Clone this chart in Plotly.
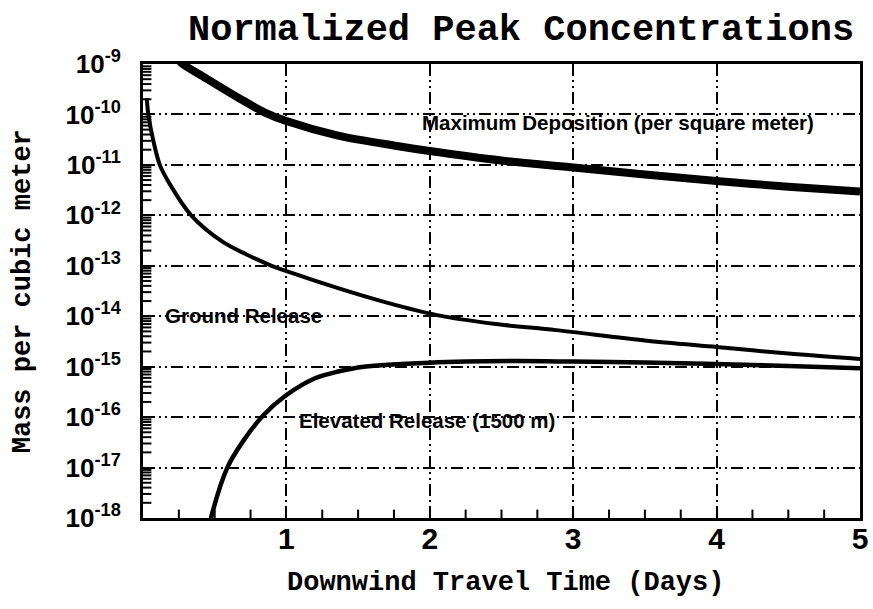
import plotly.graph_objects as go

# Downwind travel time (days) and normalized peak values for each curve
dep_days = [0.25, 0.276, 0.44, 0.67, 0.85, 1.0, 1.36, 1.77, 2.0, 2.5, 3.0, 3.5, 4.0, 4.5, 5.0]
dep_vals = [1.2e-9, 1.0e-9, 5.2e-10, 2.1e-10, 1.09e-10, 7.4e-11, 3.8e-11, 2.37e-11, 1.88e-11,
            1.22e-11, 8.9e-12, 6.45e-12, 4.8e-12, 3.7e-12, 2.95e-12]

ground_days = [0.026, 0.037, 0.071, 0.117, 0.186, 0.336, 0.554, 0.715, 0.897, 0.991, 1.36,
               1.7, 2.05, 2.46, 2.88, 3.5, 4.0, 4.5, 5.0]
ground_vals = [2.1e-10, 1.0e-10, 3.1e-11, 1.0e-11, 4.2e-12, 1.0e-12, 3.0e-13, 1.71e-13, 1.0e-13,
               8.0e-14, 3.6e-14, 1.86e-14, 1.05e-14, 7.0e-15, 5.3e-15, 3.3e-15, 2.45e-15,
               1.82e-15, 1.42e-15]

elev_days = [0.45, 0.474, 0.588, 0.703, 0.841, 1.0, 1.2, 1.36, 1.54, 2.0, 2.58, 3.0, 3.5, 4.0,
             4.5, 5.0]
elev_vals = [4.6e-19, 1.0e-18, 1.0e-17, 3.5e-17, 1.1e-16, 2.74e-16, 5.9e-16, 8.0e-16, 1.0e-15,
             1.2e-15, 1.29e-15, 1.26e-15, 1.21e-15, 1.13e-15, 1.03e-15, 9.3e-16]

x_ticks = [1, 2, 3, 4, 5]
y_exponents = [-9, -10, -11, -12, -13, -14, -15, -16, -17, -18]
minor_digits = [2, 3, 4, 5, 6, 7, 8, 9]

curve_labels = ["Maximum Deposition (per square meter)", "Ground Release", "Elevated Release (1500 m)"]
label_days = [3.31, 0.70, 1.98]
label_exps = [-10.15, -13.98, -16.06]

X_RANGE = [0, 5]
Y_RANGE = [-18, -9]

MONO = "Liberation Mono, Courier New, monospace"
SANS = "Liberation Sans, Arial, sans-serif"
NARROW = "Liberation Sans Narrow, Arial Narrow, Liberation Sans, sans-serif"
GRID_DASH = "12px,4px,2px,4px,2px,4px"

# quarter-day and 2..9 log sub-divisions for the small inward ticks
x_minor = [q / 4 for q in range(1, 20) if q % 4]
y_minor = [d * 10.0 ** e for e in y_exponents[1:] for d in minor_digits]

fig = go.Figure()
for xs, ys, w in [(dep_days, dep_vals, 8), (ground_days, ground_vals, 4), (elev_days, elev_vals, 4.5)]:
    fig.add_trace(go.Scatter(x=xs, y=ys, mode="lines", hoverinfo="skip",
                             line=dict(color="black", width=w, shape="spline", smoothing=0.9)))

# minor tick marks sitting on the frame; the outer half is clipped by the plot area
fig.add_trace(go.Scatter(
    x=x_minor, y=[10.0 ** Y_RANGE[0]] * len(x_minor), mode="markers", hoverinfo="skip",
    cliponaxis=True,
    marker=dict(symbol="line-ns", size=12, line=dict(color="black", width=2)),
))
fig.add_trace(go.Scatter(
    x=[X_RANGE[0]] * len(y_minor), y=y_minor, mode="markers", hoverinfo="skip",
    cliponaxis=True,
    marker=dict(symbol="line-ew", size=12, line=dict(color="black", width=2)),
))

fig.update_layout(
    xaxis=dict(
        range=X_RANGE, tickmode="array", tickvals=x_ticks, ticktext=[str(v) for v in x_ticks],
        ticks="inside", ticklen=11, tickwidth=2, tickcolor="black",
        showgrid=True, gridcolor="black", gridwidth=2, griddash=GRID_DASH,
        showline=True, linecolor="black", linewidth=3, mirror=True,
        zeroline=False, ticklabelstandoff=-8, ticklabeloverflow="allow",
        tickfont=dict(family=SANS, size=30, color="black", weight="bold"),
    ),
    yaxis=dict(
        type="log", range=Y_RANGE, tickmode="array",
        tickvals=[10.0 ** e for e in y_exponents],
        ticktext=[f"10<sup>{e}</sup>" for e in y_exponents],
        ticks="inside", ticklen=12, tickwidth=2, tickcolor="black",
        showgrid=True, gridcolor="black", gridwidth=2, griddash=GRID_DASH,
        showline=True, linecolor="black", linewidth=3, mirror=True,
        zeroline=False, ticklabelstandoff=14, ticklabeloverflow="allow",
        tickfont=dict(family=SANS, size=26, color="black", weight="bold"),
    ),
)

annotations = [
    dict(text="Normalized Peak Concentrations", xref="paper", yref="paper",
         x=0.527, y=1.075, xanchor="center", yanchor="middle", showarrow=False,
         font=dict(family=MONO, size=37, color="black", weight="bold")),
    dict(text="Downwind Travel Time (Days)", xref="paper", yref="paper",
         x=0.506, y=-0.143, xanchor="center", yanchor="middle", showarrow=False,
         font=dict(family=MONO, size=27, color="black", weight="bold")),
    dict(text="Mass per cubic meter", xref="paper", yref="paper", textangle=-90,
         x=-0.167, y=0.5, xanchor="center", yanchor="middle", showarrow=False,
         font=dict(family=MONO, size=27, color="black", weight="bold")),
]
for txt, xd, ye in zip(curve_labels, label_days, label_exps):
    annotations.append(dict(text=txt, x=xd, y=ye, xref="x", yref="y", showarrow=False,
                            xanchor="center", yanchor="middle",
                            font=dict(family=NARROW, size=20.5, color="black", weight="bold")))

fig.update_layout(
    width=873, height=609,
    margin=dict(l=143, r=5, t=64, b=91),
    paper_bgcolor="white", plot_bgcolor="white",
    showlegend=False, annotations=annotations,
)

fig.write_html("out.html")
